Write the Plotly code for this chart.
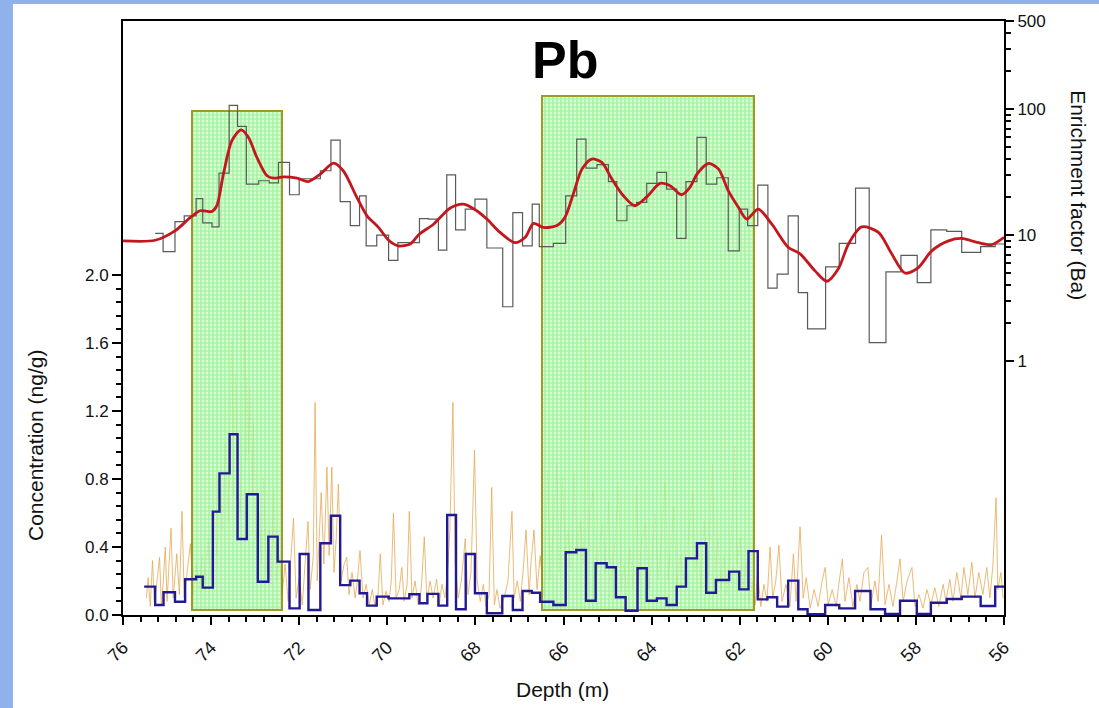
import numpy as np
import plotly.graph_objects as go

# enrichment factor (Ba), step data: bin edges (m) and EF per bin
ef_edges = [75.27, 75.09, 74.82, 74.61, 74.34, 74.19, 73.98, 73.82, 73.59, 73.40,
            73.20, 72.92, 72.68, 72.47, 72.22, 72.00, 71.52, 71.28, 71.07, 70.84,
            70.63, 70.48, 70.24, 69.97, 69.76, 69.27, 69.07, 68.84, 68.65, 68.45,
            68.23, 68.01, 67.74, 67.38, 67.15, 66.93, 66.71, 66.55, 66.23, 65.95,
            65.70, 65.49, 65.24, 64.98, 64.79, 64.56, 64.34, 64.11, 63.88, 63.66,
            63.43, 63.22, 62.97, 62.76, 62.52, 62.26, 62.01, 61.82, 61.59, 61.36,
            61.15, 60.90, 60.67, 60.46, 60.05, 59.74, 59.37, 59.06, 58.68, 58.34,
            57.97, 57.66, 57.30, 56.96, 56.53, 56.20, 56.00]
ef_vals = [10.3, 7.4, 12.8, 14.2, 19.5, 12.5, 11.6, 31.0, 107, 72.8,
           25.4, 27.0, 26.0, 37.7, 20.9, 28.0, 32.4, 56.8, 18.4, 11.9,
           20.5, 8.2, 10.0, 6.3, 8.7, 13.5, 13.4, 7.6, 30.1, 11.0,
           16.1, 19.3, 7.9, 2.7, 15.1, 8.2, 17.6, 8.1, 8.6, 20.5,
           57.8, 34.0, 36.2, 26.6, 13.0, 17.1, 18.2, 25.7, 31.4, 23.2,
           9.4, 26.6, 59.6, 25.4, 28.5, 7.5, 16.1, 11.9, 24.9, 3.8,
           4.9, 14.2, 3.5, 1.8, 5.6, 8.6, 23.6, 1.4, 5.1, 6.9,
           4.2, 11.0, 10.7, 7.3, 8.1, 8.5]

# smoothed enrichment factor
smooth_depth = [76.00, 75.27, 74.82, 74.47, 74.25, 73.98, 73.87, 73.72, 73.53, 73.32,
                73.15, 72.96, 72.73, 72.58, 72.36, 72.05, 71.79, 71.52, 71.22, 71.00,
                70.69, 70.46, 70.20, 69.97, 69.75, 69.48, 69.27, 68.95, 68.80, 68.57,
                68.27, 67.97, 67.74, 67.44, 67.10, 66.87, 66.68, 66.46, 66.15, 65.96,
                65.78, 65.58, 65.36, 65.13, 64.90, 64.64, 64.38, 64.11, 63.81, 63.58,
                63.32, 63.13, 62.97, 62.71, 62.48, 62.26, 62.03, 61.84, 61.58, 61.27,
                60.90, 60.63, 60.29, 60.02, 59.76, 59.53, 59.23, 58.85, 58.55, 58.25,
                57.95, 57.64, 57.26, 56.96, 56.58, 56.28, 56.00]
smooth_ef = [9.0, 9.1, 10.8, 13.8, 15.6, 15.4, 17.1, 30.5, 56.0, 68.5,
             59.6, 41.3, 29.6, 28.3, 29.0, 28.3, 26.6, 30.5, 37.3, 32.4,
             19.9, 14.2, 11.5, 9.1, 8.2, 8.5, 10.2, 12.2, 13.8, 16.4,
             17.6, 15.6, 13.4, 10.5, 8.7, 9.6, 12.4, 11.5, 11.9, 14.0,
             21.1, 33.4, 40.1, 37.7, 27.8, 20.5, 17.1, 20.1, 25.7, 24.6,
             20.9, 23.9, 30.5, 37.0, 33.4, 22.5, 16.6, 13.4, 16.1, 12.2,
             8.0, 7.1, 5.2, 4.3, 5.4, 8.5, 11.6, 10.5, 7.1, 5.0,
             5.5, 7.5, 9.0, 9.4, 8.7, 8.4, 9.6]

# binned concentration (ng/g)
conc_edges = [75.52, 75.27, 75.08, 74.82, 74.59, 74.34, 74.19, 73.96, 73.81, 73.58,
              73.40, 73.19, 72.94, 72.70, 72.49, 72.22, 71.99, 71.79, 71.52, 71.28,
              71.07, 70.84, 70.63, 70.46, 70.24, 69.97, 69.50, 69.27, 69.09, 68.84,
              68.64, 68.44, 68.22, 68.01, 67.74, 67.39, 67.15, 66.93, 66.72, 66.53,
              66.23, 65.95, 65.71, 65.49, 65.27, 65.02, 64.81, 64.59, 64.32, 64.11,
              63.88, 63.66, 63.43, 63.22, 62.97, 62.76, 62.54, 62.24, 62.01, 61.80,
              61.59, 61.37, 61.15, 60.90, 60.67, 60.46, 60.06, 59.74, 59.38, 59.03,
              58.70, 58.36, 57.98, 57.66, 57.30, 56.96, 56.53, 56.20, 55.99]
conc_vals = [0.167, 0.059, 0.134, 0.078, 0.21, 0.225, 0.161, 0.608, 0.833, 1.063,
             0.447, 0.71, 0.196, 0.461, 0.314, 0.039, 0.359, 0.029, 0.422, 0.584,
             0.176, 0.202, 0.128, 0.055, 0.108, 0.098, 0.122, 0.069, 0.124, 0.055,
             0.588, 0.034, 0.359, 0.128, 0.01, 0.112, 0.029, 0.141, 0.131, 0.078,
             0.059, 0.369, 0.382, 0.084, 0.304, 0.281, 0.104, 0.025, 0.275, 0.084,
             0.098, 0.059, 0.167, 0.333, 0.422, 0.131, 0.206, 0.255, 0.151, 0.376,
             0.092, 0.104, 0.049, 0.202, 0.034, 0.004, 0.059, 0.039, 0.141, 0.034,
             0.006, 0.084, 0.006, 0.072, 0.094, 0.108, 0.053, 0.167]

# high resolution concentration (ng/g)
hr_depth = [75.47, 75.43, 75.38, 75.33, 75.29, 75.25, 75.17, 75.13, 75.09, 75.04,
            75.00, 74.91, 74.86, 74.78, 74.72, 74.66, 74.61, 74.54, 74.47, 74.41,
            74.34, 74.27, 74.20, 74.13, 74.07, 74.00, 73.93, 73.87, 73.79, 73.74,
            73.68, 73.61, 73.53, 73.49, 73.45, 73.40, 73.34, 73.29, 73.24, 73.21,
            73.19, 73.15, 73.11, 73.07, 73.04, 72.98, 72.91, 72.86, 72.81, 72.75,
            72.68, 72.64, 72.58, 72.52, 72.45, 72.39, 72.32, 72.25, 72.21, 72.13,
            72.07, 72.00, 71.93, 71.87, 71.80, 71.75, 71.68, 71.64, 71.59, 71.50,
            71.44, 71.37, 71.32, 71.26, 71.21, 71.16, 71.11, 71.05, 70.98, 70.92,
            70.87, 70.80, 70.73, 70.68, 70.62, 70.55, 70.48, 70.41, 70.34, 70.28,
            70.21, 70.16, 70.10, 70.03, 69.96, 69.91, 69.86, 69.80, 69.73, 69.67,
            69.62, 69.55, 69.50, 69.44, 69.37, 69.30, 69.23, 69.16, 69.10, 69.03,
            68.96, 68.88, 68.82, 68.76, 68.69, 68.62, 68.58, 68.51, 68.46, 68.39,
            68.32, 68.23, 68.17, 68.10, 68.02, 67.96, 67.89, 67.82, 67.76, 67.69,
            67.63, 67.57, 67.51, 67.44, 67.35, 67.26, 67.17, 67.12, 67.05, 66.98,
            66.92, 66.85, 66.78, 66.74, 66.67, 66.60, 66.53, 66.44, 66.36, 66.30,
            66.24, 66.15, 66.10, 66.02, 65.96, 65.90, 65.83, 65.76, 65.69, 65.62,
            65.55, 65.49, 65.44, 65.40, 65.32, 65.26, 65.19, 65.11, 65.06, 64.98,
            64.92, 64.85, 64.75, 64.69, 64.63, 64.56, 64.49, 64.42, 64.34, 64.29,
            64.22, 64.13, 64.06, 63.99, 63.92, 63.85, 63.79, 63.69, 63.63, 63.56,
            63.49, 63.43, 63.35, 63.26, 63.17, 63.07, 63.01, 62.95, 62.88, 62.81,
            62.72, 62.62, 62.56, 62.49, 62.42, 62.36, 62.29, 62.20, 62.11, 62.06,
            61.99, 61.93, 61.86, 61.79, 61.72, 61.65, 61.59, 61.52, 61.45, 61.38,
            61.31, 61.25, 61.18, 61.11, 61.04, 60.95, 60.86, 60.78, 60.72, 60.63,
            60.56, 60.49, 60.40, 60.31, 60.22, 60.13, 60.06, 59.99, 59.90, 59.81,
            59.74, 59.67, 59.61, 59.52, 59.43, 59.34, 59.27, 59.18, 59.09, 59.02,
            58.93, 58.86, 58.78, 58.70, 58.61, 58.52, 58.43, 58.36, 58.29, 58.20,
            58.09, 58.02, 57.93, 57.84, 57.75, 57.66, 57.57, 57.48, 57.38, 57.32,
            57.23, 57.16, 57.07, 56.98, 56.91, 56.82, 56.73, 56.66, 56.57, 56.48,
            56.39, 56.32, 56.25, 56.18, 56.14, 56.07, 56.02]
hr_vals = [0.10, 0.22, 0.05, 0.32, 0.08, 0.15, 0.34, 0.06, 0.18, 0.40,
           0.08, 0.51, 0.10, 0.36, 0.12, 0.61, 0.10, 0.25, 0.42, 0.12,
           0.30, 0.15, 0.35, 0.18, 0.45, 0.20, 0.60, 0.35, 0.81, 0.50,
           1.01, 0.55, 1.62, 0.70, 1.42, 0.80, 0.60, 1.10, 1.85, 0.90,
           1.40, 0.95, 1.34, 0.70, 1.13, 0.45, 0.60, 0.30, 0.81, 0.25,
           0.50, 0.18, 0.74, 0.20, 0.35, 0.12, 0.30, 0.08, 0.25, 0.57,
           0.10, 0.22, 0.06, 0.30, 0.55, 0.15, 0.35, 1.25, 0.20, 0.72,
           0.30, 0.87, 0.35, 0.87, 0.25, 0.45, 0.77, 0.20, 0.30, 0.34,
           0.12, 0.25, 0.10, 0.20, 0.38, 0.10, 0.18, 0.06, 0.15, 0.05,
           0.12, 0.36, 0.06, 0.14, 0.08, 0.20, 0.60, 0.10, 0.15, 0.28,
           0.08, 0.18, 0.61, 0.10, 0.20, 0.06, 0.15, 0.46, 0.08, 0.20,
           0.10, 0.21, 0.06, 0.18, 0.10, 0.30, 0.50, 1.25, 0.30, 0.10,
           0.20, 0.45, 0.12, 0.25, 0.97, 0.20, 0.08, 0.18, 0.05, 0.12,
           0.75, 0.06, 0.15, 0.04, 0.10, 0.20, 0.61, 0.10, 0.20, 0.08,
           0.25, 0.50, 0.12, 0.30, 0.50, 0.15, 0.35, 0.10, 0.85, 0.20,
           0.45, 0.89, 0.25, 0.81, 0.30, 0.50, 0.25, 0.84, 0.35, 0.55,
           0.30, 1.63, 0.40, 0.60, 0.74, 0.20, 0.40, 0.54, 0.25, 0.66,
           0.20, 0.35, 0.78, 0.15, 0.30, 0.12, 0.40, 0.15, 0.76, 0.20,
           0.45, 0.54, 0.15, 0.35, 0.60, 0.20, 0.40, 0.78, 0.20, 0.45,
           0.64, 0.15, 0.35, 0.20, 0.45, 0.72, 0.25, 0.40, 0.15, 0.55,
           0.20, 0.89, 0.25, 0.45, 0.15, 0.35, 0.12, 0.40, 1.00, 0.30,
           0.45, 0.15, 0.30, 0.08, 0.20, 0.06, 0.25, 0.05, 0.18, 0.08,
           0.40, 0.10, 0.20, 0.41, 0.08, 0.18, 0.05, 0.36, 0.08, 0.52,
           0.10, 0.22, 0.04, 0.15, 0.05, 0.20, 0.28, 0.06, 0.15, 0.05,
           0.20, 0.33, 0.08, 0.22, 0.05, 0.18, 0.08, 0.25, 0.28, 0.06,
           0.20, 0.08, 0.47, 0.06, 0.18, 0.05, 0.20, 0.33, 0.08, 0.20,
           0.28, 0.05, 0.12, 0.04, 0.15, 0.06, 0.16, 0.05, 0.18, 0.08,
           0.21, 0.08, 0.25, 0.10, 0.28, 0.12, 0.31, 0.10, 0.25, 0.12,
           0.28, 0.10, 0.30, 0.69, 0.15, 0.25, 0.10]

# highlighted depth zones
zone_start = [74.44, 66.48]
zone_end = [72.39, 61.67]
zone_top = [2.965, 3.055]
zone_base = 0.03

FONT = "Liberation Sans, Arial, sans-serif"

fig = go.Figure()

# high-res concentration
fig.add_trace(go.Scatter(x=hr_depth, y=hr_vals, mode="lines",
                         line=dict(color="#e0952c", width=0.8),
                         opacity=0.8, yaxis="y", showlegend=False))

# green zones
zs = np.array(zone_start)
ze = np.array(zone_end)
fig.add_trace(go.Bar(x=(zs + ze) / 2, width=zs - ze,
                     y=np.array(zone_top) - zone_base, base=zone_base,
                     yaxis="y2", showlegend=False, opacity=0.85,
                     marker=dict(color="#c4f8bc",
                                 line=dict(color="#8c8a00", width=2),
                                 pattern=dict(shape="+", fgcolor="#2ee82e",
                                              bgcolor="#d8fcd2", size=4,
                                              solidity=0.5))))

# binned concentration steps
fig.add_trace(go.Scatter(x=conc_edges, y=conc_vals + [conc_vals[-1]], mode="lines",
                         line=dict(color="#221a94", width=2.4, shape="hv"),
                         yaxis="y2", showlegend=False))

# enrichment factor steps
fig.add_trace(go.Scatter(x=ef_edges, y=ef_vals + [ef_vals[-1]], mode="lines",
                         line=dict(color="#5a5a5a", width=1.2, shape="hv"),
                         yaxis="y3", showlegend=False))

# smoothed enrichment factor
fig.add_trace(go.Scatter(x=smooth_depth, y=smooth_ef, mode="lines",
                         line=dict(color="#c3161d", width=2.8, shape="spline",
                                   smoothing=0.8),
                         yaxis="y3", showlegend=False))

conc_ticks = [0.0, 0.4, 0.8, 1.2, 1.6, 2.0]
conc_minor = [round(v, 2) for v in np.arange(0.08, 2.0, 0.08)]
ef_ticks = [1, 10, 100, 500]
ef_minor = [2, 3, 4, 5, 6, 7, 8, 9, 20, 30, 40, 50, 60, 70, 80, 90, 200, 300, 400]
y_top = 3.494

tick_font = dict(family=FONT, size=17, color="#111")

fig.update_layout(
    width=1099, height=708,
    margin=dict(l=123, r=95, t=21, b=93),
    paper_bgcolor="white", plot_bgcolor="white",
    font=dict(family=FONT, size=17, color="black"),
    bargap=0,
    xaxis=dict(range=[76, 56], tickvals=list(range(56, 78, 2)), tickangle=-45,
               tickfont=dict(family=FONT, size=18, color="#111"),
               ticklabelstandoff=5,
               ticks="outside", ticklen=8, tickwidth=1.5, tickcolor="black",
               showline=True, linecolor="black", linewidth=2, mirror=True,
               showgrid=False, zeroline=False,
               minor=dict(dtick=0.4, ticks="outside", ticklen=5, tickwidth=1.5,
                          tickcolor="black", showgrid=False)),
    yaxis=dict(range=[0, y_top], tickvals=conc_ticks, tickformat=".1f",
               tickfont=tick_font,
               ticks="outside", ticklen=9, tickwidth=1.5, tickcolor="black",
               showline=True, linecolor="black", linewidth=2, mirror=True,
               showgrid=False, zeroline=False,
               minor=dict(tickvals=conc_minor, ticks="outside", ticklen=5,
                          tickwidth=1.5, tickcolor="black", showgrid=False)),
    yaxis2=dict(range=[0, y_top], overlaying="y", visible=False),
    yaxis3=dict(type="log", range=[-2.015, 2.699], overlaying="y", side="right",
                anchor="x", tickvals=ef_ticks, ticktext=["1", "10", "100", "500"],
                tickfont=tick_font,
                ticks="outside", ticklen=8, tickwidth=1.5, tickcolor="black",
                showline=True, linecolor="black", linewidth=2,
                showgrid=False, zeroline=False,
                minor=dict(tickvals=ef_minor, ticks="outside", ticklen=5,
                           tickwidth=1.5, tickcolor="black", showgrid=False)),
)

fig.add_annotation(text="<b>Pb</b>", x=0.502, y=0.934, xref="paper", yref="paper",
                   xanchor="center", yanchor="middle", showarrow=False,
                   font=dict(family=FONT, size=52))
fig.add_annotation(text="Concentration (ng/g)", x=-0.1, y=0.286, xref="paper",
                   yref="paper", xanchor="center", yanchor="middle",
                   showarrow=False, textangle=-90,
                   font=dict(family=FONT, size=21, color="#111"))
fig.add_annotation(text="Enrichment factor (Ba)", x=1.085, y=0.707, xref="paper",
                   yref="paper", xanchor="center", yanchor="middle",
                   showarrow=False, textangle=90,
                   font=dict(family=FONT, size=21, color="#111"))
fig.add_annotation(text="Depth (m)", x=0.4994, y=-0.126, xref="paper", yref="paper",
                   xanchor="center", yanchor="middle", showarrow=False,
                   font=dict(family=FONT, size=21, color="#111"))

# blue slide frame
fig.add_shape(type="rect", xref="paper", yref="paper", x0=-0.14, x1=-0.1249,
              y0=-0.17, y1=1.04, fillcolor="#8fb2ec", line_width=0)
fig.add_shape(type="rect", xref="paper", yref="paper", x0=-0.14, x1=1.11,
              y0=1.0286, y1=1.04, fillcolor="#8fb2ec", line_width=0)

fig.write_html("out.html", config={"displayModeBar": False},
               post_script="document.body.style.margin='0';")
